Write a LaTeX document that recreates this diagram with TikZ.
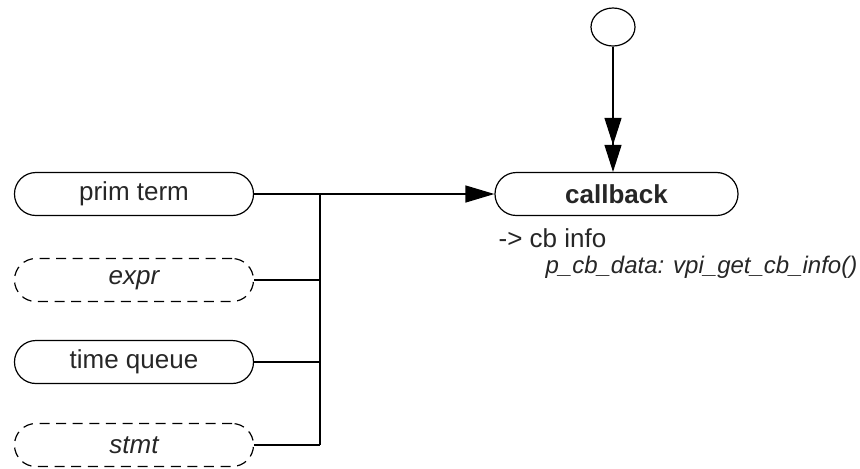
\documentclass[tikz,border=0pt]{standalone}
\usepackage{fontspec}
\setmainfont{Liberation Sans}
\usepackage{tikz}
\usetikzlibrary{arrows.meta, shapes.geometric}

\begin{document}
\begin{tikzpicture}[x=0.5pt, y=-0.5pt, line width=0.6pt,
  state/.style={draw, rounded corners=10.7pt, minimum width=119.5pt, minimum height=21.5pt,
    inner sep=0pt, text=black!85, font=\fontsize{13}{15}\selectfont},
  ghost/.style={state, dash pattern=on 5pt off 3.3pt, font=\fontsize{13}{15}\selectfont\itshape},
  arr/.style={-{Triangle[length=14.5pt, width=8.5pt]}},
  darr/.style={-{Triangle[length=13.5pt, width=8.5pt] Triangle[length=13.5pt, width=8.5pt]}}]
\useasboundingbox (0,0) rectangle (860,468);
% sources
\node[state] (prim) at (134,194) {prim term};
\node[ghost] (expr) at (134,280) {expr};
\node[state] (tq) at (134,362) {time queue};
\node[ghost] (stmt) at (134,445) {stmt};
% target
\node[state, minimum width=121.5pt, font=\fontsize{13}{15}\selectfont\bfseries] (cb) at (616.5,194) {callback};
\node[draw, ellipse, minimum width=22pt, minimum height=19pt, inner sep=0pt] (start) at (613,27) {};
\node[anchor=west, inner sep=0pt, text=black!85, font=\fontsize{13}{15}\selectfont] (info) at (498,238) {-> cb info};
\node[anchor=west, inner sep=0pt, text=black!85, font=\fontsize{12}{14}\selectfont\itshape] (getinfo) at (545,267) {p\_cb\_data: vpi\_get\_cb\_info()};
% bus
\coordinate (bustop) at (320,194);
\coordinate (busbot) at (320,445);
\draw[arr] (prim.east) -- (cb.west);
\draw (bustop) -- (busbot);
\draw (expr.east) -- (expr.east -| bustop);
\draw (tq.east) -- (tq.east -| bustop);
\draw (stmt.east) -- (busbot);
\draw[darr] (start.south) -- (start.south |- cb.north);
\end{tikzpicture}
\end{document}
